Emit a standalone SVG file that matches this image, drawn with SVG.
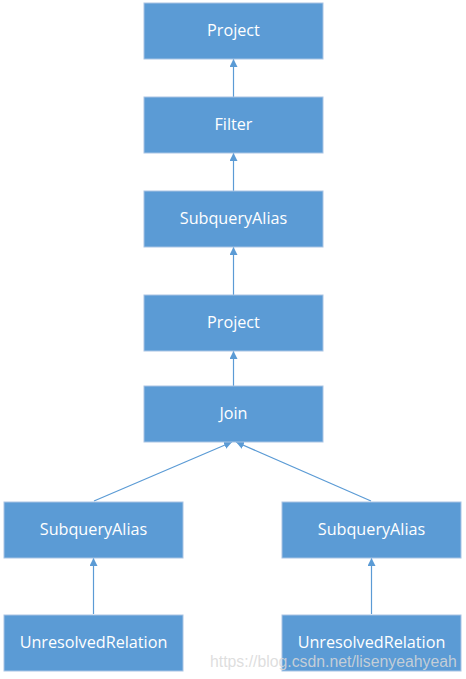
<svg xmlns="http://www.w3.org/2000/svg" width="466" height="679" viewBox="0 0 466 679">
<style>
.box{fill:#5b9bd5;stroke:#a9c4e4;stroke-width:1}
.lbl{fill:#ffffff;font-family:"Open Sans","Liberation Sans",sans-serif;font-size:16.2px;text-anchor:middle;dominant-baseline:central}
.edge{stroke:#5b9bd5;stroke-width:1.2;fill:none}
.wm{fill:#d8d8d8;fill-opacity:0.85;font-family:"Liberation Sans",Arial,sans-serif;font-size:15.8px}
</style>
<defs>
<marker id="arr" viewBox="0 0 10 10" refX="10" refY="5" markerWidth="8" markerHeight="8" markerUnits="userSpaceOnUse" orient="auto"><path d="M0,0 L10,5 L0,10 z" fill="#5b9bd5"/></marker>
</defs>
<rect width="466" height="679" fill="#ffffff"/>
<g id="connectors">
<line class="edge" x1="233.5" y1="97" x2="233.5" y2="59" marker-end="url(#arr)"/>
<line class="edge" x1="233.5" y1="191" x2="233.5" y2="153" marker-end="url(#arr)"/>
<line class="edge" x1="233.5" y1="295" x2="233.5" y2="247" marker-end="url(#arr)"/>
<line class="edge" x1="233.5" y1="386" x2="233.5" y2="351" marker-end="url(#arr)"/>
<line class="edge" x1="94" y1="501" x2="232" y2="442" marker-end="url(#arr)"/>
<line class="edge" x1="371" y1="501" x2="236" y2="442" marker-end="url(#arr)"/>
<line class="edge" x1="93.5" y1="614" x2="93.5" y2="558" marker-end="url(#arr)"/>
<line class="edge" x1="371.5" y1="614" x2="371.5" y2="558" marker-end="url(#arr)"/>
</g>
<g id="project1"><rect class="box" x="144" y="3" width="179" height="56"/><text class="lbl" x="233.5" y="30">Project</text></g>
<g id="filter"><rect class="box" x="144" y="97" width="179" height="56"/><text class="lbl" x="233.5" y="124">Filter</text></g>
<g id="subquery1"><rect class="box" x="144" y="191" width="179" height="56"/><text class="lbl" x="233.5" y="218">SubqueryAlias</text></g>
<g id="project2"><rect class="box" x="144" y="295" width="179" height="56"/><text class="lbl" x="233.5" y="322">Project</text></g>
<g id="join"><rect class="box" x="144" y="386" width="179" height="56"/><text class="lbl" x="233.5" y="413">Join</text></g>
<g id="subqueryL"><rect class="box" x="4" y="502" width="179" height="56"/><text class="lbl" x="93.5" y="529">SubqueryAlias</text></g>
<g id="subqueryR"><rect class="box" x="282" y="502" width="179" height="56"/><text class="lbl" x="371.5" y="529">SubqueryAlias</text></g>
<g id="unresolvedL"><rect class="box" x="4" y="615" width="179" height="56"/><text class="lbl" x="93.5" y="642">UnresolvedRelation</text></g>
<g id="unresolvedR"><rect class="box" x="282" y="615" width="179" height="56"/><text class="lbl" x="371.5" y="642">UnresolvedRelation</text></g>
<text class="wm" x="210" y="667">https://blog.csdn.net/lisenyeahyeah</text>
</svg>
